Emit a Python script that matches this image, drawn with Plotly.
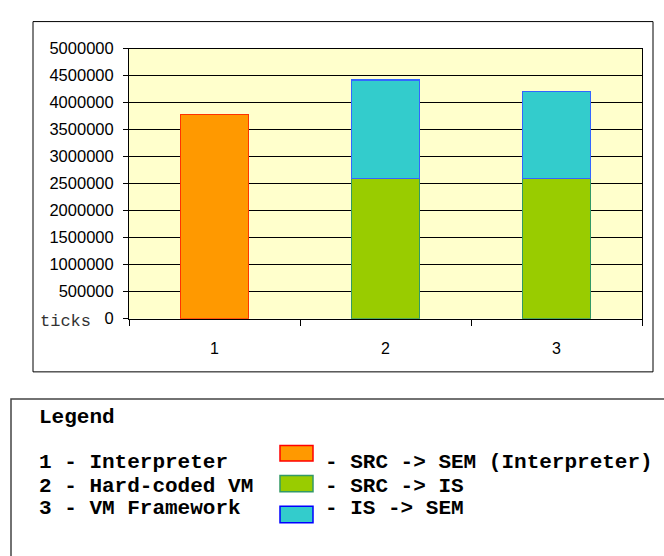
import plotly.graph_objects as go

W, H = 664, 556

categories = [1, 2, 3]
category_labels = ["1", "2", "3"]
src_sem_interp = [3785000, None, None]
src_is = [None, 2600000, 2600000]
is_sem = [None, 1820000, 1605000]
y_ticks = [0, 500000, 1000000, 1500000, 2000000, 2500000, 3000000, 3500000,
           4000000, 4500000, 5000000]

legend_title = "Legend"
legend_left = ["1 - Interpreter", "2 - Hard-coded VM", "3 - VM Framework"]
legend_right = ["- SRC -> SEM (Interpreter)", "- SRC -> IS", "- IS -> SEM"]


def px(x):
    return x / W


def py(y):
    return 1 - y / H


fig = go.Figure()
fig.add_trace(go.Bar(x=categories, y=src_sem_interp, width=0.4,
                     marker=dict(color="#FF9900", line=dict(color="#FF3300", width=1.5)),
                     name="SRC -> SEM (Interpreter)"))
fig.add_trace(go.Bar(x=categories, y=src_is, width=0.4,
                     marker=dict(color="#99CC00", line=dict(color="#339966", width=1.2)),
                     name="SRC -> IS"))
fig.add_trace(go.Bar(x=categories, y=is_sem, width=0.4,
                     marker=dict(color="#33CCCC", line=dict(color="#3366FF", width=1.5)),
                     name="IS -> SEM"))

shapes = [
    # chart frame
    dict(type="rect", xref="paper", yref="paper", x0=px(33), x1=px(653),
         y0=py(13), y1=py(375), line=dict(color="black", width=1), layer="below"),
    # legend frame
    dict(type="rect", xref="paper", yref="paper", x0=px(11), x1=px(700),
         y0=py(403), y1=py(620), line=dict(color="#444444", width=1.5), layer="below"),
]
swatches = [
    (451, 467, "#FF9900", "#FF0000"),
    (482, 499, "#99CC00", "#339966"),
    (514, 531, "#33CCCC", "#0000FF"),
]
for y0, y1, fc, lc in swatches:
    shapes.append(dict(type="rect", xref="paper", yref="paper", x0=px(280), x1=px(313),
                       y0=py(y0), y1=py(y1), fillcolor=fc, line=dict(color=lc, width=1.5)))

mono = "Liberation Mono, Courier New, monospace"
annotations = [
    dict(text="ticks", x=px(38), y=py(323), xref="paper", yref="paper", xanchor="left",
         yanchor="middle", showarrow=False, font=dict(family=mono, size=17, color="#333333")),
    dict(text="<b>%s</b>" % legend_title, x=px(37), y=py(422), xref="paper", yref="paper",
         xanchor="left", yanchor="middle", showarrow=False,
         font=dict(family=mono, size=21, color="black")),
]
row_y = [469, 493, 516]
for yy, lt, rt in zip(row_y, legend_left, legend_right):
    annotations.append(dict(text="<b>%s</b>" % lt, x=px(37), y=py(yy), xref="paper", yref="paper",
                            xanchor="left", yanchor="middle", showarrow=False,
                            font=dict(family=mono, size=21, color="black")))
    annotations.append(dict(text="<b>%s</b>" % rt, x=px(323), y=py(yy), xref="paper", yref="paper",
                            xanchor="left", yanchor="middle", showarrow=False,
                            font=dict(family=mono, size=21, color="black")))

fig.update_layout(
    width=W, height=H,
    margin=dict(l=0, r=0, t=0, b=0),
    barmode="stack",
    showlegend=False,
    paper_bgcolor="white",
    plot_bgcolor="#FFFFCC",
    shapes=shapes,
    annotations=annotations,
    xaxis=dict(domain=[px(129), px(642)], range=[0.5, 3.5],
               tickvals=categories, ticktext=category_labels, ticks="",
               ticklabelstandoff=15,
               tickfont=dict(family="Liberation Sans, Arial", size=16, color="black"),
               showgrid=False, showline=True, linecolor="black", linewidth=1, mirror=True,
               zeroline=False,
               minor=dict(tickvals=[0.5, 1.5, 2.5, 3.5], ticks="outside", ticklen=6,
                          tickcolor="black", showgrid=False)),
    yaxis=dict(domain=[py(320), py(41)], range=[0, 5000000],
               tickvals=y_ticks, tickformat="d", ticks="outside", ticklen=5,
               tickcolor="black", ticklabelstandoff=6,
               tickfont=dict(family="Liberation Sans, Arial", size=16.5, color="black"),
               showgrid=True, gridcolor="black", gridwidth=1,
               showline=True, linecolor="black", linewidth=1, mirror=True, zeroline=False),
)

fig.write_html("out.html")
